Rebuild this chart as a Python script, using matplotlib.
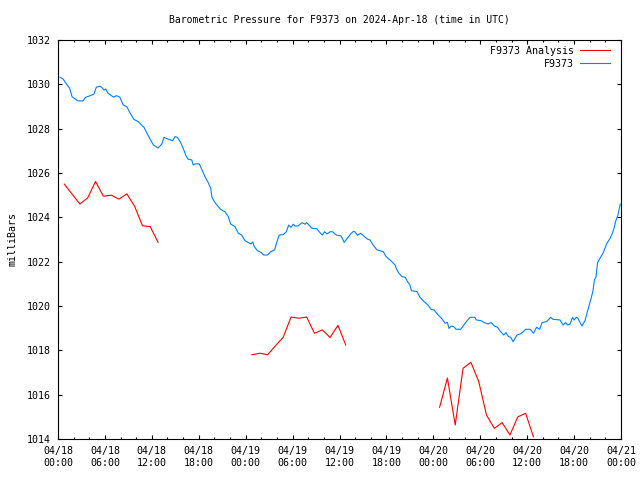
import pandas as pd
import matplotlib
matplotlib.use("Agg")
import matplotlib.pyplot as plt
import matplotlib.dates as mdates

# Stunden ab 2024-04-18 00:00 UTC
start = pd.Timestamp("2024-04-18 00:00")

obs_hours = [0.26, 0.68, 1.1, 1.5, 1.8, 2.5, 3.2, 3.5, 4.2, 4.6, 4.9, 5.4, 5.7, 5.9, 6.1, 6.4,
             7.1, 7.5, 7.9, 8.35, 8.8, 9.2, 9.7, 10.3, 10.8, 11.0, 11.5, 11.8, 12.2, 12.8,
             13.26, 13.55, 14.1, 14.67, 14.96, 15.26, 15.69, 16.02, 16.37, 16.66, 17.1, 17.3,
             17.52, 18.07, 18.38, 18.8, 19.22, 19.53, 19.69, 20.08, 20.8, 21.36, 21.78, 22.08,
             22.63, 23.06, 23.49, 23.91, 24.3, 24.7, 24.9, 25.1, 25.5, 26.0, 26.3, 26.8, 27.2,
             27.7, 28.0, 28.3, 28.8, 29.2, 29.5, 29.8, 30.1, 30.3, 30.7, 31.2, 31.6, 31.8, 32.1,
             32.5, 33.1, 33.4, 33.8, 34.1, 34.4, 34.8, 35.1, 35.6, 36.2, 36.6, 37.0, 37.5, 37.8,
             38.0, 38.3, 38.7, 39.2, 39.6, 39.9, 40.3, 40.8, 41.3, 41.6, 41.9, 42.2, 42.7, 43.1,
             43.3, 43.6, 44.0, 44.4, 44.7, 45.0, 45.2, 45.9, 46.3, 46.8, 47.3, 47.7, 48.1, 48.6,
             49.1, 49.5, 49.8, 50.0, 50.3, 50.6, 50.9, 51.5, 52.0, 52.4, 52.7, 53.3, 53.5, 54.1,
             54.5, 55.0, 55.4, 55.8, 56.2, 56.5, 57.0, 57.3, 57.6, 57.9, 58.2, 58.7, 59.1, 59.5,
             59.8, 60.4, 60.8, 61.2, 61.6, 61.9, 62.5, 63.0, 63.3, 64.2, 64.6, 64.9, 65.2, 65.5,
             65.8, 66.0, 66.3, 66.5, 67.0, 67.4, 67.7, 68.0, 68.4, 68.6, 68.8, 69.0, 69.3, 69.7,
             70.2, 70.6, 70.9, 71.1, 71.3, 71.6, 71.9]
obs_mb = [1030.32, 1030.23, 1030.0, 1029.82, 1029.44, 1029.26, 1029.25, 1029.41, 1029.5, 1029.56,
          1029.87, 1029.92, 1029.82, 1029.74, 1029.79, 1029.6, 1029.42, 1029.49, 1029.42, 1029.07,
          1028.99, 1028.72, 1028.42, 1028.31, 1028.12, 1028.06, 1027.71, 1027.52, 1027.26, 1027.13,
          1027.3, 1027.61, 1027.52, 1027.46, 1027.64, 1027.61, 1027.37, 1027.11, 1026.77, 1026.62,
          1026.59, 1026.36, 1026.41, 1026.41, 1026.17, 1025.83, 1025.56, 1025.31, 1024.9, 1024.66,
          1024.36, 1024.25, 1024.03, 1023.7, 1023.58, 1023.28, 1023.2, 1022.95, 1022.87, 1022.8,
          1022.89, 1022.68, 1022.5, 1022.41, 1022.3, 1022.3, 1022.45, 1022.53, 1022.9, 1023.2,
          1023.22, 1023.35, 1023.65, 1023.55, 1023.69, 1023.61, 1023.61, 1023.76, 1023.69, 1023.76,
          1023.65, 1023.5, 1023.49, 1023.35, 1023.2, 1023.35, 1023.25, 1023.35, 1023.35, 1023.2,
          1023.16, 1022.87, 1023.05, 1023.28, 1023.37, 1023.34, 1023.19, 1023.28, 1023.13, 1023.01,
          1022.98, 1022.75, 1022.53, 1022.48, 1022.45, 1022.26, 1022.15, 1022.0, 1021.85, 1021.66,
          1021.48, 1021.32, 1021.3, 1021.1, 1020.95, 1020.69, 1020.65, 1020.39, 1020.2, 1020.05,
          1019.85, 1019.82, 1019.6, 1019.42, 1019.22, 1019.26, 1018.99, 1019.1, 1019.07, 1018.95,
          1018.95, 1019.19, 1019.37, 1019.49, 1019.49, 1019.37, 1019.34, 1019.25, 1019.19, 1019.25,
          1019.1, 1019.04, 1018.89, 1018.69, 1018.8, 1018.62, 1018.59, 1018.39, 1018.69, 1018.74,
          1018.84, 1018.95, 1018.95, 1018.77, 1019.04, 1018.95, 1019.25, 1019.3, 1019.49, 1019.4,
          1019.37, 1019.14, 1019.25, 1019.14, 1019.19, 1019.49, 1019.37, 1019.49, 1019.44, 1019.1,
          1019.34, 1019.74, 1020.12, 1020.65, 1021.17, 1021.3, 1021.95, 1022.15, 1022.38, 1022.83,
          1023.05, 1023.28, 1023.5, 1023.8, 1024.1, 1024.6]

# Analyse: drei Abschnitte (Lücken dazwischen)
ana1_hours = [0.8, 1.8, 2.8, 3.8, 4.8, 5.8, 6.8, 7.8, 8.8, 9.8, 10.8, 11.8, 12.8]
ana1_mb = [1025.5, 1025.05, 1024.6, 1024.88, 1025.62, 1024.95, 1025.0, 1024.82, 1025.06,
           1024.5, 1023.62, 1023.58, 1022.87]
ana2_hours = [24.8, 25.8, 26.8, 27.8, 28.8, 29.8, 30.8, 31.8, 32.8, 33.8, 34.8, 35.8, 36.8]
ana2_mb = [1017.8, 1017.87, 1017.8, 1018.2, 1018.59, 1019.5, 1019.45, 1019.5, 1018.77,
           1018.92, 1018.58, 1019.13, 1018.24]
ana3_hours = [48.8, 49.8, 50.8, 51.8, 52.8, 53.8, 54.8, 55.8, 56.8, 57.8, 58.8, 59.8, 60.8]
ana3_mb = [1015.43, 1016.75, 1014.63, 1017.19, 1017.46, 1016.6, 1015.08, 1014.48, 1014.74,
           1014.18, 1015.0, 1015.16, 1014.1]


def to_time(hours):
    return start + pd.to_timedelta(hours, unit="h")


plt.rcParams["font.family"] = "DejaVu Sans Mono"
plt.rcParams["font.size"] = 7.2

fig = plt.figure(figsize=(6.4, 4.8), dpi=100)
ax = fig.add_axes([58 / 640, 1 - 439 / 480, 563 / 640, 399 / 480])

red = "#ff0000"
blue = "#0080ff"
ax.plot(to_time(ana1_hours), ana1_mb, color=red, lw=0.8, label="F9373 Analysis")
ax.plot(to_time(ana2_hours), ana2_mb, color=red, lw=0.8)
ax.plot(to_time(ana3_hours), ana3_mb, color=red, lw=0.8)
ax.plot(to_time(obs_hours), obs_mb, color=blue, lw=0.8, label="F9373")

ax.set_xlim(start, start + pd.Timedelta(hours=72))
ax.set_ylim(1014, 1032)
ax.set_yticks(range(1014, 1033, 2))
ax.xaxis.set_major_locator(mdates.HourLocator(byhour=range(0, 24, 6)))
ax.xaxis.set_minor_locator(mdates.HourLocator(byhour=range(0, 24, 2)))
ax.xaxis.set_major_formatter(mdates.DateFormatter("%m/%d\n%H:%M"))

ax.tick_params(which="both", direction="in", top=True, right=True, width=0.8)
ax.tick_params(which="major", length=3.2, pad=5)
ax.tick_params(which="minor", length=1.6)
for s in ax.spines.values():
    s.set_linewidth(0.8)

ax.set_ylabel("milliBars", labelpad=7)
ax.set_title("Barometric Pressure for F9373 on 2024-Apr-18 (time in UTC)",
             fontsize=7.0, pad=12)

ax.legend(loc="upper right", bbox_to_anchor=(1 - 7 / 563, 1 - 2 / 399),
          markerfirst=False, frameon=False, handlelength=3.0,
          handletextpad=0.6, labelspacing=0.3, borderaxespad=0, borderpad=0.4)

fig.savefig("out.png", dpi=100)
